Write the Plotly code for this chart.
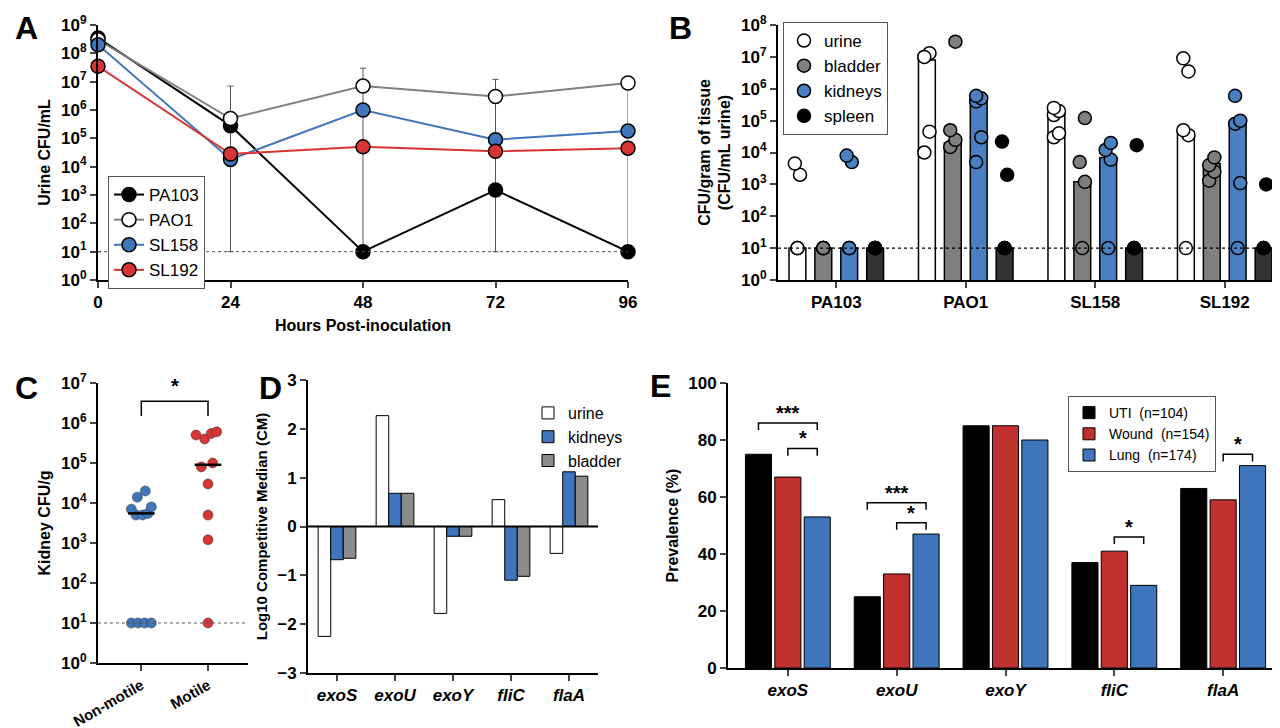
import plotly.graph_objects as go

# ---- data ----
hours = [0, 24, 48, 72, 96]
pa103 = [3.5e8, 2.8e5, 10, 1.5e3, 10]
pao1 = [3e8, 5e5, 7e6, 3e6, 9e6]
sl158 = [2e8, 1.8e4, 1e6, 9e4, 1.8e5]
sl192 = [3.5e7, 2.8e4, 5e4, 3.5e4, 4.5e4]
err_hi = [0, 7e6, 3e7, 1.2e7, 9e6]

strains = ["PA103", "PAO1", "SL158", "SL192"]
tissues = ["urine", "bladder", "kidneys", "spleen"]
tissue_medians = {
    "urine": [10, 8e6, 1.8e5, 4.5e4],
    "bladder": [10, 2e4, 1.2e3, 4.5e3],
    "kidneys": [10, 4e5, 7e3, 8e4],
    "spleen": [10, 10, 10, 10],
}
tissue_points = {
    "urine": [[10, 10, 10, 2e3, 4.5e3], [1e4, 4.5e4, 1e7, 1.3e7, 1e7],
              [3e4, 4e4, 1.5e5, 2e5, 2.5e5], [10, 3.5e4, 5e4, 3.5e6, 9e6]],
    "bladder": [[10, 10, 10, 10, 10], [1.5e4, 2.5e4, 5e4, 3e7],
                [10, 1.2e3, 5e3, 1.2e5], [1.3e3, 2.5e3, 4e3, 7e3]],
    "kidneys": [[10, 10, 10, 5e3, 8e3], [5e3, 3e4, 4e5, 5e5, 6e5],
                [10, 6e3, 1.2e4, 2e4], [10, 1.1e3, 8e4, 1e5, 6e5]],
    "spleen": [[10, 10, 10, 10, 10], [10, 10, 10, 2e3, 2.2e4],
               [10, 10, 10, 1.7e4], [10, 10, 10, 1e3]],
}
tissue_fill = {"urine": "white", "bladder": "#7f7f7f", "kidneys": "#4a7fc1", "spleen": "#333333"}
tissue_dot = {"urine": "white", "bladder": "#7f7f7f", "kidneys": "#4a7fc1", "spleen": "black"}

nonmotile = [10, 10, 10, 10, 5e3, 5e3, 5.5e3, 7e3, 8e3, 1.4e4, 2e4]
motile = [10, 1.2e3, 5e3, 3e4, 8e4, 1e5, 4e5, 5e5, 5.5e5, 6e5]
nonmotile_x = [-0.15, -0.05, 0.05, 0.15, -0.08, 0.02, 0.1, -0.15, 0.15, -0.06, 0.06]
motile_x = [1, 1, 1, 1, 0.9, 1.07, 0.95, 0.82, 1.05, 1.13]
nonmotile_median = 5.5e3
motile_median = 9e4

genes = ["exoS", "exoU", "exoY", "fliC", "flaA"]
cm_urine = [-2.25, 2.27, -1.78, 0.55, -0.55]
cm_kidneys = [-0.68, 0.68, -0.2, -1.1, 1.12]
cm_bladder = [-0.65, 0.68, -0.2, -1.02, 1.03]

prev_uti = [75, 25, 85, 37, 63]
prev_wound = [67, 33, 85, 41, 59]
prev_lung = [53, 47, 80, 29, 71]

BLUE = "#3f75bb"
RED = "#d93434"
W, H = 1280, 728
FONT = "Liberation Sans"

def dx(x0, x1):
    return [x0 / W, x1 / W]

def dy(y_top, y_bot):
    return [1 - y_bot / H, 1 - y_top / H]

fig = go.Figure()

axis_common = dict(showline=True, linecolor="black", linewidth=2, ticks="outside",
                   tickwidth=2, ticklen=6, showgrid=False, zeroline=False, automargin=False,
                   tickfont=dict(size=17, family=FONT, color="black", weight="bold"))
title_font = dict(size=16, family=FONT, color="black", weight="bold")
log_ticks = lambda n: dict(tickvals=[10 ** i for i in range(n + 1)],
                           ticktext=[f"10<sup>{i}</sup>" for i in range(n + 1)])

# ---- A ----
series_a = [("PA103", pa103, "black", "black"), ("PAO1", pao1, "white", "#808080"),
            ("SL158", sl158, BLUE, BLUE), ("SL192", sl192, RED, RED)]
fig.add_trace(go.Scatter(
    x=hours, y=[10] * 5, mode="markers", xaxis="x", yaxis="y", showlegend=False,
    marker=dict(size=1, color="rgba(0,0,0,0)"),
    error_y=dict(type="data", symmetric=False, array=[max(h - 10, 0) for h in err_hi],
                 arrayminus=[0] * 5, color="#555", thickness=1, width=3)))
for name, vals, fill, line in series_a:
    fig.add_trace(go.Scatter(
        x=hours, y=vals, name=name, mode="lines+markers", xaxis="x", yaxis="y",
        line=dict(color=line, width=2),
        marker=dict(size=14, color=fill, line=dict(color="black", width=1.5)),
        legend="legend", cliponaxis=False))

fig.update_layout(
    xaxis=dict(domain=dx(90, 620), anchor="y", range=[0, 96], tickvals=hours,
               title=dict(text="Hours Post-inoculation", font=title_font, standoff=8),
               **axis_common),
    yaxis=dict(domain=dy(17, 272), anchor="x", type="log", range=[0, 9],
               title=dict(text="Urine CFU/mL", font=title_font, standoff=6),
               **log_ticks(9), **axis_common),
)
fig.add_shape(type="line", xref="x", yref="y", x0=0, x1=96, y0=10, y1=10,
              line=dict(color="#555", width=1, dash="dot"))

# ---- B ----
offsets = [-0.3, -0.1, 0.1, 0.3]
for ti, t in enumerate(tissues):
    fig.add_trace(go.Bar(
        x=[i + offsets[ti] for i in range(4)], y=tissue_medians[t], width=0.13,
        marker=dict(color=tissue_fill[t], line=dict(color="black", width=1.5)),
        xaxis="x2", yaxis="y2", showlegend=False))
for ti, t in enumerate(tissues):
    xs, ys = [], []
    for si in range(4):
        pts = tissue_points[t][si]
        for k, v in enumerate(pts):
            xs.append(si + offsets[ti] + (0.02 if k % 2 else -0.02) * (v > 10))
            ys.append(v)
    fig.add_trace(go.Scatter(
        x=xs, y=ys, mode="markers", name=t, xaxis="x2", yaxis="y2", legend="legend2",
        cliponaxis=False,
        marker=dict(size=13, color=tissue_dot[t], line=dict(color="black", width=1.5))))

fig.update_layout(
    xaxis2=dict(domain=dx(770, 1275), anchor="y2", range=[-0.45, 3.45],
                tickvals=list(range(4)), ticktext=strains, **axis_common),
    yaxis2=dict(domain=dy(17, 272), anchor="x2", type="log", range=[0, 8],
                title=dict(text="CFU/gram of tissue<br>(CFU/mL urine)", font=title_font, standoff=6),
                **log_ticks(8), **axis_common),
    barmode="overlay",
)
fig.add_shape(type="line", xref="x2", yref="y2", x0=-0.45, x1=3.45, y0=10, y1=10,
              line=dict(color="black", width=1.2, dash="dot"))

# ---- C ----
fig.add_trace(go.Scatter(
    x=nonmotile_x, y=nonmotile, mode="markers", xaxis="x3", yaxis="y3", showlegend=False,
    marker=dict(size=10, color=BLUE, line=dict(color="#333", width=0.5))))
fig.add_trace(go.Scatter(
    x=motile_x, y=motile, mode="markers", xaxis="x3", yaxis="y3", showlegend=False,
    marker=dict(size=10, color=RED, line=dict(color="#333", width=0.5))))
fig.add_trace(go.Scatter(x=[-0.2, 0.2, None, 0.8, 1.2],
                         y=[nonmotile_median, nonmotile_median, None, motile_median, motile_median],
                         mode="lines", line=dict(color="black", width=2.5),
                         xaxis="x3", yaxis="y3", showlegend=False))
c_ticks = {**axis_common, "tickfont": dict(size=15, family=FONT, color="black", weight="bold")}
fig.update_layout(
    xaxis3=dict(domain=dx(90, 240), anchor="y3", range=[-0.65, 1.6], tickvals=[0, 1],
                ticktext=["Non-motile", "Motile"], tickangle=-30, **c_ticks),
    yaxis3=dict(domain=dy(375, 655), anchor="x3", type="log", range=[0, 7],
                title=dict(text="Kidney CFU/g", font=title_font, standoff=6),
                **log_ticks(7), **axis_common),
)
fig.add_shape(type="line", xref="x3", yref="y3", x0=-0.65, x1=1.6, y0=10, y1=10,
              line=dict(color="#555", width=1, dash="dot"))
fig.add_shape(type="path", xref="x3", yref="y3",
              path="M 0,1.5e6 L 0,3.5e6 L 1,3.5e6 L 1,1.5e6", line=dict(color="black", width=1.5))
fig.add_annotation(x=0.5, y=6.6, xref="x3", yref="y3", text="<b>*</b>", showarrow=False,
                   yanchor="bottom", font=dict(size=20, color="black"))

# ---- D ----
for name, vals, col in [("urine", cm_urine, "white"), ("kidneys", cm_kidneys, BLUE),
                        ("bladder", cm_bladder, "#8c8c8c")]:
    fig.add_trace(go.Bar(x=genes, y=vals, name=name, xaxis="x4", yaxis="y4", legend="legend4",
                         marker=dict(color=col, line=dict(color="black", width=1)),
                         offsetgroup=name))
d_ticks = {**axis_common, "tickfont": dict(size=17, family=FONT, color="black", weight="bold", style="italic")}
fig.update_layout(
    xaxis4=dict(domain=dx(300, 590), anchor="y4", tickvals=genes, **d_ticks),
    yaxis4=dict(domain=dy(372, 665), anchor="x4", range=[-3, 3], dtick=1,
                title=dict(text="Log10 Competitive Median (CM)", font=dict(size=15, family=FONT, weight="bold"), standoff=6),
                **axis_common),
    bargap=0.35,
)
fig.add_shape(type="line", xref="x4 domain", yref="y4", x0=0, x1=1, y0=0, y1=0,
              line=dict(color="black", width=2))

# ---- E ----
gx = list(range(len(genes)))
for name, vals, col, off in [("UTI  (n=104)", prev_uti, "black", -0.27),
                             ("Wound  (n=154)", prev_wound, "#c0302e", 0),
                             ("Lung  (n=174)", prev_lung, BLUE, 0.27)]:
    fig.add_trace(go.Bar(x=[g + off for g in gx], y=vals, name=name, width=0.24,
                         xaxis="x5", yaxis="y5", legend="legend5",
                         marker=dict(color=col, line=dict(color="black", width=1))))
fig.update_layout(
    xaxis5=dict(domain=dx(720, 1275), anchor="y5", range=[-0.55, 4.55], tickvals=gx,
                ticktext=genes, **d_ticks),
    yaxis5=dict(domain=dy(375, 660), anchor="x5", range=[0, 100], dtick=20,
                title=dict(text="Prevalence (%)", font=title_font, standoff=6),
                **axis_common),
)
brackets = [(0, -0.27, 0.27, 86, "***"), (0, 0, 0.27, 77, "*"),
            (1, -0.27, 0.27, 58, "***"), (1, 0, 0.27, 51, "*"),
            (3, 0, 0.27, 46, "*"), (4, 0, 0.27, 75, "*")]
for g, a, b, yv, lab in brackets:
    fig.add_shape(type="path", xref="x5", yref="y5",
                  path=f"M {g+a},{yv-2.5} L {g+a},{yv} L {g+b},{yv} L {g+b},{yv-2.5}",
                  line=dict(color="black", width=1.5))
    fig.add_annotation(x=g + (a + b) / 2, y=yv - 1, xref="x5", yref="y5", text=f"<b>{lab}</b>",
                       showarrow=False, yanchor="bottom", font=dict(size=20, color="black"))

# ---- panel letters ----
for lab, cx, cy in [("A", 18, 20), ("B", 672, 20), ("C", 18, 380), ("D", 262, 380), ("E", 652, 378)]:
    fig.add_annotation(x=cx / W, y=1 - cy / H, xref="paper", yref="paper", text=f"<b>{lab}</b>",
                       showarrow=False, xanchor="center", yanchor="middle",
                       font=dict(size=32, family=FONT, color="black"))

leg = dict(bordercolor="#555", borderwidth=1, bgcolor="white",
           font=dict(size=17, family=FONT, color="black"))
fig.update_layout(
    width=W, height=H, margin=dict(l=0, r=0, t=0, b=0, autoexpand=False),
    plot_bgcolor="white", paper_bgcolor="white",
    font=dict(family=FONT, color="black"),
    legend=dict(x=100 / W, y=1 - 168 / H, xanchor="left", yanchor="top", **leg),
    legend2=dict(x=775 / W, y=1 - 14 / H, xanchor="left", yanchor="top", **leg),
    legend4=dict(x=520 / W, y=1 - 388 / H, xanchor="left", yanchor="top",
                 font=dict(size=16, family=FONT, color="black"), bgcolor="rgba(0,0,0,0)"),
    legend5=dict(x=1060 / W, y=1 - 388 / H, xanchor="left", yanchor="top",
                 **{**leg, "font": dict(size=14, family=FONT, color="black")}),
)

fig.write_html("out.html")
